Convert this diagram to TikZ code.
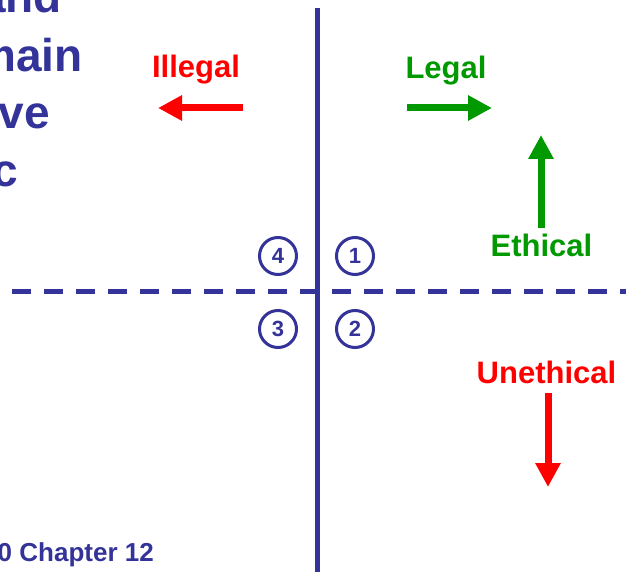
\documentclass[tikz,border=0pt]{standalone}
\usepackage{fontspec}
\setmainfont{Liberation Sans}
\usepackage{tikz}
\usetikzlibrary{arrows.meta}
\definecolor{navy}{HTML}{333399}
\definecolor{legalgreen}{HTML}{009900}
\definecolor{illegalred}{HTML}{FF0000}

\begin{document}
\begin{tikzpicture}[x=1pt,y=-1pt,
  title/.style={anchor=base east,inner sep=0pt,text=navy,font=\bfseries\fontsize{46pt}{46pt}\selectfont},
  label/.style={anchor=base,inner sep=0pt,font=\bfseries\fontsize{31pt}{31pt}\selectfont},
  quad/.style={draw=navy,line width=3pt,circle,minimum size=37pt,inner sep=0pt,text=navy,font=\bfseries\fontsize{22pt}{22pt}\selectfont},
  bigarrow/.style={line width=7pt,-{Triangle[length=24pt,width=24pt]}}]
\useasboundingbox (0,0) rectangle (626,572);
\clip (0,0) rectangle (626,572);

\node[title] (l1) at (62,13) {and};
\node[title] (l2) at (83,72) {main};
\node[title] (l3) at (50,129) {ve};
\node[title] (l4) at (18,186) {c};
\node[anchor=base east,inner sep=0pt,text=navy,font=\bfseries\fontsize{26pt}{26pt}\selectfont] (chap) at (154,561) {0 Chapter 12};

\coordinate (vtop) at (317.5,8);
\coordinate (vbot) at (317.5,580);
\coordinate (hleft) at (12,291.5);
\coordinate (hright) at (640,291.5);
\path[draw,navy,line width=5pt] (vtop) -- (vbot);
\path[draw,navy,line width=5pt,dash pattern=on 19pt off 13pt] (hleft) -- (hright);

\node[quad] (q4) at (278,256) {4};
\node[quad] (q1) at (355,256) {1};
\node[quad] (q3) at (278,329) {3};
\node[quad] (q2) at (355,329) {2};

\node[label,text=illegalred] (illegal) at (196,78) {Illegal};
\node[label,text=legalgreen] (legal) at (446,79) {Legal};
\node[label,text=legalgreen] (ethical) at (541.5,256) {Ethical};
\node[label,text=illegalred] (unethical) at (546.5,383) {Unethical};

\coordinate (il0) at (243,108);
\coordinate (il1) at (158,108);
\coordinate (le0) at (407,108);
\coordinate (le1) at (492,108);
\coordinate (et0) at (541,228);
\coordinate (et1) at (541,135);
\coordinate (un0) at (548,393);
\coordinate (un1) at (548,487);

\path[draw,illegalred,bigarrow] (il0) -- (il1);
\path[draw,legalgreen,bigarrow] (le0) -- (le1);
\path[draw,legalgreen,bigarrow] (et0) -- (et1);
\path[draw,illegalred,bigarrow] (un0) -- (un1);
\end{tikzpicture}
\end{document}
